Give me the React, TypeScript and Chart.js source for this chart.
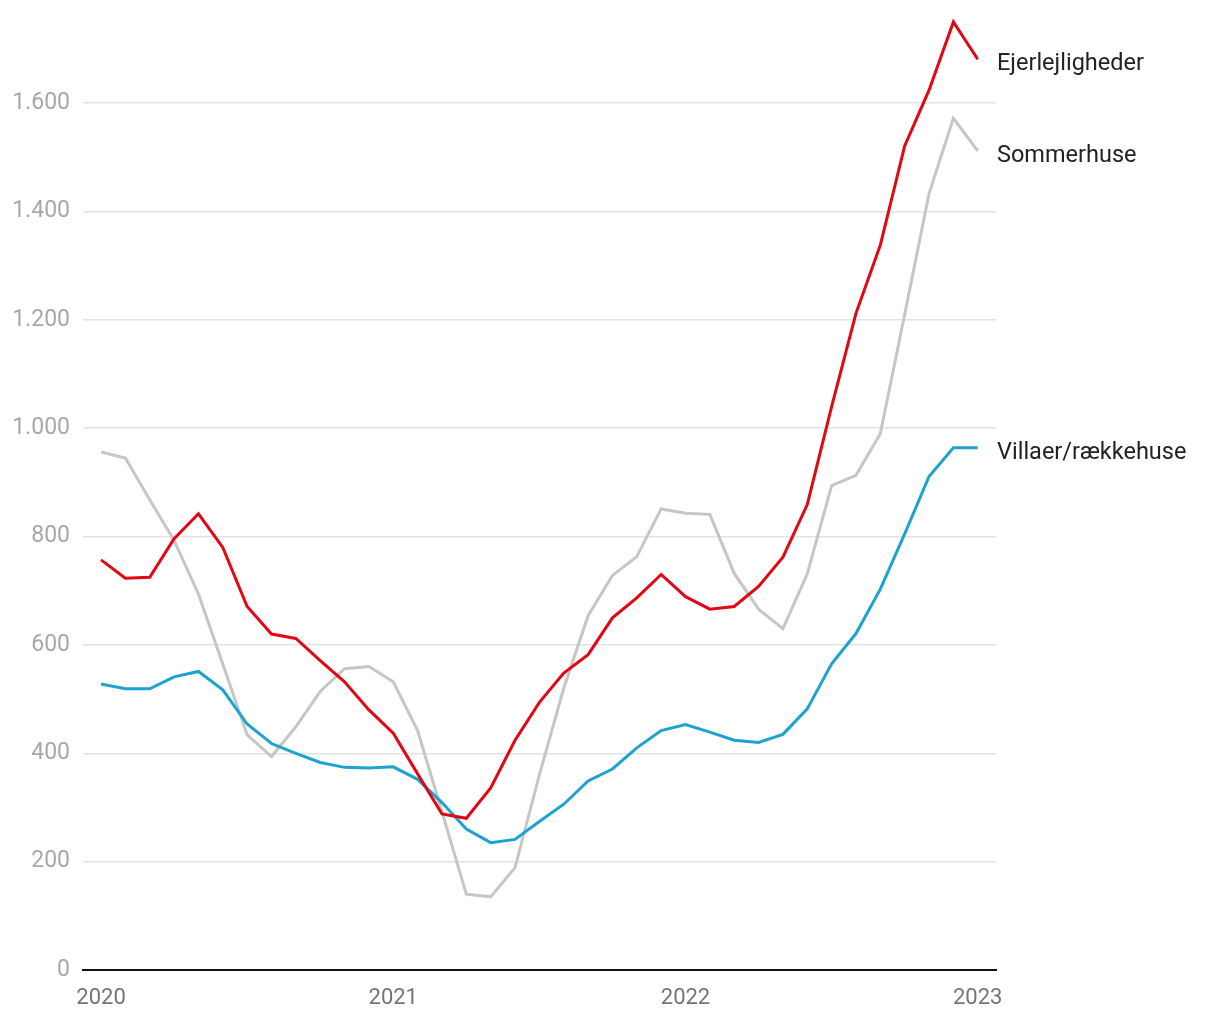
import React, { useEffect, useRef } from "react";
import { Chart, registerables } from "chart.js";

Chart.register(...registerables);

// Monthly observations, Jan 2020 .. Jan 2023
const months: string[] = [
  "2020-01","2020-02","2020-03","2020-04","2020-05","2020-06","2020-07","2020-08","2020-09","2020-10","2020-11","2020-12",
  "2021-01","2021-02","2021-03","2021-04","2021-05","2021-06","2021-07","2021-08","2021-09","2021-10","2021-11","2021-12",
  "2022-01","2022-02","2022-03","2022-04","2022-05","2022-06","2022-07","2022-08","2022-09","2022-10","2022-11","2022-12",
  "2023-01",
];

const ejerlejligheder: number[] = [
  757, 723, 725, 796, 842, 780, 671, 620, 612, 571, 532, 480,
  437, 362, 288, 280, 336, 424, 494, 548, 582, 650, 687, 730,
  689, 666, 671, 708, 762, 859, 1040, 1212, 1338, 1521, 1624, 1750,
  1681,
];

const sommerhuse: number[] = [
  956, 945, 868, 793, 694, 565, 434, 394, 449, 514, 556, 560,
  532, 442, 292, 140, 135, 189, 360, 520, 654, 728, 763, 851,
  843, 841, 732, 666, 630, 731, 894, 913, 990, 1210, 1433, 1572,
  1512,
];

const villaer: number[] = [
  528, 519, 519, 541, 551, 517, 454, 418, 400, 383, 374, 373,
  375, 352, 309, 260, 235, 241, 274, 306, 349, 371, 410, 442,
  453, 439, 424, 420, 435, 482, 565, 621, 703, 805, 911, 964,
  964,
];

const seriesNames: string[] = ["Ejerlejligheder", "Sommerhuse", "Villaer/rækkehuse"];
const seriesColors: string[] = ["#e30613", "#c6c6c6", "#1ca3d0"];

const yearTickIndex: number[] = [0, 12, 24, 36];
const yearTickLabels: string[] = ["2020", "2021", "2022", "2023"];
const yTickValues: number[] = [0, 200, 400, 600, 800, 1000, 1200, 1400, 1600];

const FONT = "Roboto, 'Noto Sans', sans-serif";

const endLabels = {
  id: "endLabels",
  afterDatasetsDraw(chart: any) {
    const { ctx, chartArea } = chart;
    const yScale = chart.scales.y;
    ctx.save();
    ctx.font = `23.5px ${FONT}`;
    ctx.fillStyle = "#222222";
    ctx.textAlign = "left";
    ctx.textBaseline = "middle";
    chart.data.datasets.forEach((ds: any) => {
      const last = ds.data[ds.data.length - 1];
      const y = yScale.getPixelForValue(last.y);
      ctx.fillText(ds.label, chartArea.right + 1, y + 5);
    });
    ctx.restore();
  },
};

function App() {
  const canvasRef = useRef<HTMLCanvasElement | null>(null);

  useEffect(() => {
    if (!canvasRef.current) return;
    const toPts = (arr: number[]) => arr.map((v, i) => ({ x: i, y: v }));
    const chart = new Chart(canvasRef.current, {
      type: "line",
      data: {
        labels: months,
        datasets: [
          {
            label: seriesNames[0],
            data: toPts(ejerlejligheder),
            borderColor: seriesColors[0],
            borderWidth: 3,
            pointRadius: 0,
            tension: 0,
            order: 1,
          },
          {
            label: seriesNames[1],
            data: toPts(sommerhuse),
            borderColor: seriesColors[1],
            borderWidth: 3,
            pointRadius: 0,
            tension: 0,
            order: 3,
          },
          {
            label: seriesNames[2],
            data: toPts(villaer),
            borderColor: seriesColors[2],
            borderWidth: 3,
            pointRadius: 0,
            tension: 0,
            order: 2,
          },
        ],
      },
      options: {
        animation: false,
        responsive: true,
        maintainAspectRatio: false,
        layout: { padding: { top: 9, right: 216, left: 0, bottom: 0 } },
        plugins: {
          legend: { display: false },
          tooltip: { enabled: false },
        },
        scales: {
          x: {
            type: "linear",
            min: -0.74,
            max: 36.75,
            afterBuildTicks: (scale: any) => {
              scale.ticks = yearTickIndex.map((v) => ({ value: v }));
            },
            afterFit: (scale: any) => {
              scale.height = 42;
            },
            grid: { display: false, drawTicks: false },
            border: { display: true, color: "#111111", width: 2 },
            ticks: {
              padding: 15,
              color: "#757575",
              font: { family: FONT, size: 22 },
              maxRotation: 0,
              autoSkip: false,
              callback: (value: any) => {
                const idx = yearTickIndex.indexOf(Number(value));
                return idx >= 0 ? yearTickLabels[idx] : "";
              },
            },
          },
          y: {
            type: "linear",
            min: 0,
            max: 1759,
            afterBuildTicks: (scale: any) => {
              scale.ticks = yTickValues.map((v) => ({ value: v }));
            },
            afterFit: (scale: any) => {
              scale.width = 75;
              scale.paddingTop = 0;
              scale.paddingBottom = 0;
            },
            grid: { color: "#e3e3e3", lineWidth: 1.5, drawTicks: false },
            border: { display: false },
            ticks: {
              padding: 13,
              color: "#a8a8a8",
              font: { family: FONT, size: 23 },
              callback: (value: any) => Number(value).toLocaleString("da-DK"),
            },
          },
        },
      },
      plugins: [endLabels],
    });
    return () => chart.destroy();
  }, []);

  return (
    <div style={{ position: "relative", width: 1204, height: 1004 }}>
      <canvas ref={canvasRef} />
    </div>
  );
}

export default App;
